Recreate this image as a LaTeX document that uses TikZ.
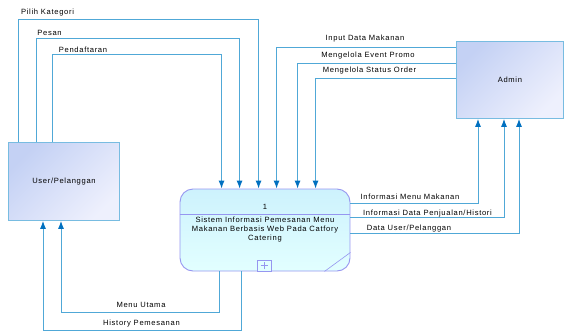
\documentclass[tikz,border=0pt]{standalone}
\usepackage{fontspec}
\setmainfont{Liberation Sans}
\newfontfamily\dfdfont[LetterSpace=9]{Liberation Sans}
\usepackage{xcolor}
\usetikzlibrary{arrows.meta,calc,positioning}
\definecolor{flowblue}{RGB}{80,168,215}
\definecolor{tipblue}{RGB}{0,112,192}
\definecolor{entfillA}{RGB}{196,209,244}
\definecolor{entfillB}{RGB}{238,240,253}
\definecolor{entline}{RGB}{120,188,225}
\definecolor{procfillA}{RGB}{205,242,253}
\definecolor{procfillB}{RGB}{226,255,255}
\definecolor{procline}{RGB}{150,150,240}

\begin{document}
\begin{tikzpicture}[
    x=1pt, y=-1pt,
    font=\dfdfont\fontsize{7.6}{9}\selectfont,
    entity/.style={rectangle, draw=entline, line width=0.9pt,
        top color=entfillA, bottom color=entfillB, shading angle=45,
        anchor=north west, inner sep=0},
    process/.style={rectangle, rounded corners=13pt, draw=procline, line width=0.9pt,
        top color=procfillA, bottom color=procfillB,
        minimum width=170pt, minimum height=82pt, inner sep=0},
    flow/.style={draw=flowblue, line width=0.9pt,
        -{Latex[length=8pt, width=6pt, color=tipblue]}},
    lbl/.style={inner sep=0, text=black}]

\useasboundingbox (0,0) rectangle (565,332);

\node[entity, minimum width=111pt, minimum height=78pt] (user) at (8,142) {User/Pelanggan};
\node[entity, minimum width=107pt, minimum height=77pt] (admin) at (456,41) {Admin};
\node[process] (proc) at (265,230) {};

\node[lbl] (procnum) at (265,207) {1};
\node[lbl, align=center] (proctext) at (265,229.5)
    {Sistem Informasi Pemesanan Menu\\Makanan Berbasis Web Pada Catfory\\Catering};
\path[draw, procline, line width=0.8pt] ([yshift=16pt]proc.west) -- ([yshift=16pt]proc.east);
\path[draw, procline, line width=0.6pt] ([xshift=-26pt]proc.south east) -- ([yshift=19pt]proc.south east);
\node[draw=procline, line width=0.6pt, fill=procfillB, minimum width=14pt, minimum height=11pt,
    inner sep=0, anchor=south] (procplus) at ([xshift=-1pt]proc.south) {};
\path[draw, procline, line width=0.6pt] ([xshift=-3.5pt]procplus.center) -- ([xshift=3.5pt]procplus.center)
    ([yshift=-3.5pt]procplus.center) -- ([yshift=3.5pt]procplus.center);

\coordinate (uout1) at ([xshift=10pt]user.north west);
\coordinate (uout2) at ([xshift=28pt]user.north west);
\coordinate (uout3) at ([xshift=44pt]user.north west);
\coordinate (uin1) at ([xshift=35pt]user.south west);
\coordinate (uin2) at ([xshift=53pt]user.south west);
\coordinate (pin1) at ([xshift=42pt]proc.north west);
\coordinate (pin2) at ([xshift=60pt]proc.north west);
\coordinate (pin3) at ([xshift=79pt]proc.north west);
\coordinate (pin4) at ([xshift=97pt]proc.north west);
\coordinate (pin5) at ([xshift=118pt]proc.north west);
\coordinate (pin6) at ([xshift=136pt]proc.north west);
\coordinate (pout1) at ([yshift=-15pt]proc.north east);
\coordinate (pout2) at ([yshift=-29pt]proc.north east);
\coordinate (pout3) at ([yshift=-45pt]proc.north east);
\coordinate (pbot1) at ([xshift=40pt]proc.south west);
\coordinate (pbot2) at ([xshift=62pt]proc.south west);
\coordinate (aout1) at ([yshift=-6pt]admin.north west);
\coordinate (aout2) at ([yshift=-22pt]admin.north west);
\coordinate (aout3) at ([yshift=-37pt]admin.north west);
\coordinate (ain1) at ([xshift=22pt]admin.south west);
\coordinate (ain2) at ([xshift=48pt]admin.south west);
\coordinate (ain3) at ([xshift=63pt]admin.south west);

\path[flow] (uout1) |- (pin3 |- 0,19) -- (pin3);
\path[flow] (uout2) |- (pin2 |- 0,38) -- (pin2);
\path[flow] (uout3) |- (pin1 |- 0,54) -- (pin1);
\path[flow] (aout1) -| (pin4);
\path[flow] (aout2) -| (pin5);
\path[flow] (aout3) -| (pin6);
\path[flow] (pout1) -| (ain1);
\path[flow] (pout2) -| (ain2);
\path[flow] (pout3) -| (ain3);
\path[flow] (pbot1) |- (uin2 |- 0,312) -- (uin2);
\path[flow] (pbot2) |- (uin1 |- 0,330) -- (uin1);

\node[lbl] (lblpilih) at (47.5,13) {Pilih Kategori};
\node[lbl] (lblpesan) at (49.5,33) {Pesan};
\node[lbl] (lbldaftar) at (83,50) {Pendaftaran};
\node[lbl] (lblinput) at (365,39) {Input Data Makanan};
\node[lbl] (lblpromo) at (368,56) {Mengelola Event Promo};
\node[lbl] (lblstatus) at (369.5,71) {Mengelola Status Order};
\node[lbl] (lblmenu) at (410,197) {Informasi Menu Makanan};
\node[lbl] (lbljual) at (427.5,214) {Informasi Data Penjualan/Histori};
\node[lbl] (lbldata) at (409,229) {Data User/Pelanggan};
\node[lbl] (lblutama) at (141,305) {Menu Utama};
\node[lbl] (lblhist) at (141.5,324) {History Pemesanan};

\end{tikzpicture}
\end{document}
